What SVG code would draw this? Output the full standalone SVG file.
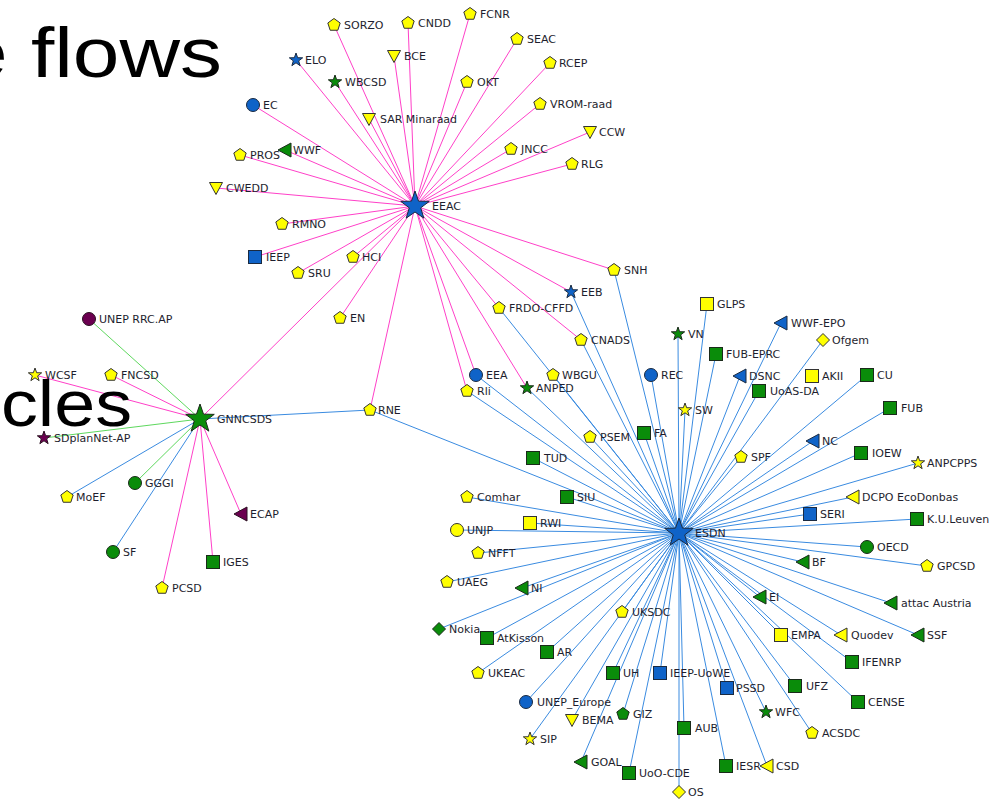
<svg xmlns="http://www.w3.org/2000/svg" xmlns:xlink="http://www.w3.org/1999/xlink" width="990" height="799" viewBox="0 0 990 799">
<style>
.bg{fill:#ffffff}
.ep{stroke:#ff40c8;stroke-width:1;fill:none}
.eb{stroke:#3a8be0;stroke-width:1;fill:none}
.eg{stroke:#5ed85e;stroke-width:1;fill:none}
.t{font-family:"DejaVu Sans",Verdana,sans-serif;font-size:11px;fill:#1e1e2e}
.big{font-family:"Liberation Sans",Arial,sans-serif;fill:#000}
.y{fill:#ffff00;stroke:#333;stroke-width:1}
.b{fill:#0f63c8;stroke:#1a2a40;stroke-width:1}
.g{fill:#0a8c0a;stroke:#1a2a1a;stroke-width:1}
.p{fill:#6b0050;stroke:#2a1020;stroke-width:1}
</style>
<defs>
<polygon id="pent" points="0,-6.5 6.18,-2.01 3.82,5.26 -3.82,5.26 -6.18,-2.01"/>
<circle id="circ" cx="0" cy="0" r="6.5"/>
<rect id="sq" x="-6.5" y="-6.5" width="13" height="13"/>
<polygon id="tdn" points="-6.5,-5.5 6.5,-5.5 0,6.5"/>
<polygon id="tlf" points="-7,0 6,-7 6,7"/>
<polygon id="dia" points="0,-6.5 6.5,0 0,6.5 -6.5,0"/>
<polygon id="star" points="0,-7 1.65,-2.27 6.66,-2.16 2.66,0.87 4.11,5.66 0,2.8 -4.11,5.66 -2.66,0.87 -6.66,-2.16 -1.65,-2.27"/>
<polygon id="hub" points="0,-15 3.53,-4.85 14.27,-4.64 5.71,1.85 8.82,12.14 0,6 -8.82,12.14 -5.71,1.85 -14.27,-4.64 -3.53,-4.85"/>
</defs>
<rect class="bg" x="0" y="0" width="990" height="799"/>
<g id="edges">
<g class="ep">
<line x1="415" y1="206" x2="334" y2="25"/><line x1="415" y1="206" x2="408" y2="23"/><line x1="415" y1="206" x2="470" y2="14"/>
<line x1="415" y1="206" x2="296" y2="60"/><line x1="415" y1="206" x2="394" y2="56"/><line x1="415" y1="206" x2="517" y2="39"/>
<line x1="415" y1="206" x2="335" y2="82"/><line x1="415" y1="206" x2="467" y2="82"/><line x1="415" y1="206" x2="550" y2="63"/>
<line x1="415" y1="206" x2="253" y2="105"/><line x1="415" y1="206" x2="369" y2="119"/><line x1="415" y1="206" x2="540" y2="104"/>
<line x1="415" y1="206" x2="590" y2="132"/><line x1="415" y1="206" x2="240" y2="155"/><line x1="415" y1="206" x2="285" y2="150"/>
<line x1="415" y1="206" x2="511" y2="149"/><line x1="415" y1="206" x2="572" y2="164"/><line x1="415" y1="206" x2="216" y2="188"/>
<line x1="415" y1="206" x2="282" y2="224"/><line x1="415" y1="206" x2="255" y2="257"/><line x1="415" y1="206" x2="353" y2="257"/>
<line x1="415" y1="206" x2="298" y2="273"/><line x1="415" y1="206" x2="340" y2="318"/><line x1="415" y1="206" x2="614" y2="270"/>
<line x1="415" y1="206" x2="571" y2="292"/><line x1="415" y1="206" x2="499" y2="308"/><line x1="415" y1="206" x2="581" y2="340"/>
<line x1="415" y1="206" x2="476" y2="375"/><line x1="415" y1="206" x2="467" y2="391"/><line x1="415" y1="206" x2="527" y2="388"/>
<line x1="415" y1="206" x2="370" y2="410"/><line x1="415" y1="206" x2="200" y2="419"/>
<line x1="200" y1="419" x2="35" y2="375"/><line x1="200" y1="419" x2="111" y2="375"/><line x1="200" y1="419" x2="162" y2="588"/>
<line x1="200" y1="419" x2="213" y2="562"/><line x1="200" y1="419" x2="241" y2="514"/>
</g>
<g class="eg">
<line x1="200" y1="419" x2="89" y2="319"/><line x1="200" y1="419" x2="44" y2="438"/><line x1="200" y1="419" x2="135" y2="483"/>
</g>
<g class="eb">
<line x1="200" y1="419" x2="67" y2="497"/><line x1="200" y1="419" x2="113" y2="552"/><line x1="200" y1="419" x2="370" y2="410"/>
<line x1="679" y1="533" x2="370" y2="410"/>
<line x1="679" y1="533" x2="614" y2="270"/><line x1="679" y1="533" x2="571" y2="292"/><line x1="679" y1="533" x2="499" y2="308"/>
<line x1="679" y1="533" x2="581" y2="340"/><line x1="679" y1="533" x2="476" y2="375"/><line x1="679" y1="533" x2="467" y2="391"/>
<line x1="679" y1="533" x2="527" y2="388"/><line x1="679" y1="533" x2="553" y2="375"/><line x1="679" y1="533" x2="651" y2="375"/>
<line x1="679" y1="533" x2="678" y2="334"/><line x1="679" y1="533" x2="707" y2="304"/><line x1="679" y1="533" x2="716" y2="354"/>
<line x1="679" y1="533" x2="781" y2="323"/><line x1="679" y1="533" x2="823" y2="340"/><line x1="679" y1="533" x2="740" y2="376"/>
<line x1="679" y1="533" x2="759" y2="391"/><line x1="679" y1="533" x2="867" y2="375"/><line x1="679" y1="533" x2="685" y2="410"/>
<line x1="679" y1="533" x2="644" y2="433"/><line x1="679" y1="533" x2="590" y2="437"/><line x1="679" y1="533" x2="533" y2="458"/>
<line x1="679" y1="533" x2="890" y2="408"/><line x1="679" y1="533" x2="813" y2="441"/><line x1="679" y1="533" x2="741" y2="457"/>
<line x1="679" y1="533" x2="861" y2="453"/><line x1="679" y1="533" x2="918" y2="463"/><line x1="679" y1="533" x2="853" y2="497"/>
<line x1="679" y1="533" x2="810" y2="514"/><line x1="679" y1="533" x2="917" y2="519"/><line x1="679" y1="533" x2="567" y2="497"/>
<line x1="679" y1="533" x2="467" y2="497"/><line x1="679" y1="533" x2="530" y2="523"/><line x1="679" y1="533" x2="457" y2="530"/>
<line x1="679" y1="533" x2="478" y2="553"/><line x1="679" y1="533" x2="447" y2="582"/><line x1="679" y1="533" x2="522" y2="588"/>
<line x1="679" y1="533" x2="622" y2="612"/><line x1="679" y1="533" x2="439" y2="629"/><line x1="679" y1="533" x2="487" y2="638"/>
<line x1="679" y1="533" x2="547" y2="652"/><line x1="679" y1="533" x2="867" y2="547"/><line x1="679" y1="533" x2="927" y2="566"/>
<line x1="679" y1="533" x2="803" y2="562"/><line x1="679" y1="533" x2="760" y2="597"/><line x1="679" y1="533" x2="891" y2="603"/>
<line x1="679" y1="533" x2="781" y2="635"/><line x1="679" y1="533" x2="841" y2="635"/><line x1="679" y1="533" x2="918" y2="635"/>
<line x1="679" y1="533" x2="852" y2="662"/><line x1="679" y1="533" x2="795" y2="686"/><line x1="679" y1="533" x2="727" y2="688"/>
<line x1="679" y1="533" x2="858" y2="702"/><line x1="679" y1="533" x2="766" y2="712"/><line x1="679" y1="533" x2="812" y2="733"/>
<line x1="679" y1="533" x2="684" y2="728"/><line x1="679" y1="533" x2="478" y2="673"/><line x1="679" y1="533" x2="613" y2="673"/>
<line x1="679" y1="533" x2="660" y2="673"/><line x1="679" y1="533" x2="526" y2="702"/><line x1="679" y1="533" x2="572" y2="720"/>
<line x1="679" y1="533" x2="623" y2="714"/><line x1="679" y1="533" x2="530" y2="739"/><line x1="679" y1="533" x2="581" y2="762"/>
<line x1="679" y1="533" x2="629" y2="773"/><line x1="679" y1="533" x2="726" y2="766"/><line x1="679" y1="533" x2="767" y2="766"/>
<line x1="679" y1="533" x2="679" y2="792"/>
</g>
</g>
<g id="nodes">
<g id="n-EEAC"><use href="#hub" class="b" x="415" y="206"/><text class="t" x="432" y="210">EEAC</text></g>
<g id="n-ESDN"><use href="#hub" class="b" x="679" y="533"/><text class="t" x="695" y="537">ESDN</text></g>
<g id="n-GNNCSDS"><use href="#hub" class="g" x="200" y="419"/><text class="t" x="217" y="423">GNNCSDS</text></g>
<g id="n-SORZO"><use href="#pent" class="y" x="334" y="25"/><text class="t" x="344" y="29">SORZO</text></g>
<g id="n-CNDD"><use href="#pent" class="y" x="408" y="23"/><text class="t" x="418" y="27">CNDD</text></g>
<g id="n-FCNR"><use href="#pent" class="y" x="470" y="14"/><text class="t" x="480" y="18">FCNR</text></g>
<g id="n-ELO"><use href="#star" class="b" x="296" y="60"/><text class="t" x="305" y="64">ELO</text></g>
<g id="n-BCE"><use href="#tdn" class="y" x="394" y="56"/><text class="t" x="404" y="60">BCE</text></g>
<g id="n-SEAC"><use href="#pent" class="y" x="517" y="39"/><text class="t" x="527" y="43">SEAC</text></g>
<g id="n-WBCSD"><use href="#star" class="g" x="335" y="82"/><text class="t" x="345" y="86">WBCSD</text></g>
<g id="n-OKT"><use href="#pent" class="y" x="467" y="82"/><text class="t" x="477" y="86">OKT</text></g>
<g id="n-RCEP"><use href="#pent" class="y" x="550" y="63"/><text class="t" x="559" y="67">RCEP</text></g>
<g id="n-EC"><use href="#circ" class="b" x="253" y="105"/><text class="t" x="263" y="109">EC</text></g>
<g id="n-SAR"><use href="#tdn" class="y" x="369" y="119"/><text class="t" x="380" y="123">SAR Minaraad</text></g>
<g id="n-VROM"><use href="#pent" class="y" x="540" y="104"/><text class="t" x="550" y="108">VROM-raad</text></g>
<g id="n-CCW"><use href="#tdn" class="y" x="590" y="132"/><text class="t" x="599" y="136">CCW</text></g>
<g id="n-PROS"><use href="#pent" class="y" x="240" y="155"/><text class="t" x="250" y="159">PROS</text></g>
<g id="n-WWF"><use href="#tlf" class="g" x="285" y="150"/><text class="t" x="293" y="154">WWF</text></g>
<g id="n-JNCC"><use href="#pent" class="y" x="511" y="149"/><text class="t" x="521" y="153">JNCC</text></g>
<g id="n-RLG"><use href="#pent" class="y" x="572" y="164"/><text class="t" x="581" y="168">RLG</text></g>
<g id="n-CWEDD"><use href="#tdn" class="y" x="216" y="188"/><text class="t" x="226" y="192">CWEDD</text></g>
<g id="n-RMNO"><use href="#pent" class="y" x="282" y="224"/><text class="t" x="292" y="228">RMNO</text></g>
<g id="n-IEEP"><use href="#sq" class="b" x="255" y="257"/><text class="t" x="266" y="261">IEEP</text></g>
<g id="n-HCI"><use href="#pent" class="y" x="353" y="257"/><text class="t" x="362" y="261">HCI</text></g>
<g id="n-SRU"><use href="#pent" class="y" x="298" y="273"/><text class="t" x="308" y="277">SRU</text></g>
<g id="n-EN"><use href="#pent" class="y" x="340" y="318"/><text class="t" x="350" y="322">EN</text></g>
<g id="n-SNH"><use href="#pent" class="y" x="614" y="270"/><text class="t" x="624" y="274">SNH</text></g>
<g id="n-EEB"><use href="#star" class="b" x="571" y="292"/><text class="t" x="581" y="296">EEB</text></g>
<g id="n-FRDO"><use href="#pent" class="y" x="499" y="308"/><text class="t" x="509" y="312">FRDO-CFFD</text></g>
<g id="n-CNADS"><use href="#pent" class="y" x="581" y="340"/><text class="t" x="591" y="344">CNADS</text></g>
<g id="n-EEA"><use href="#circ" class="b" x="476" y="375"/><text class="t" x="486" y="379">EEA</text></g>
<g id="n-Rli"><use href="#pent" class="y" x="467" y="391"/><text class="t" x="477" y="395">Rli</text></g>
<g id="n-ANPED"><use href="#star" class="g" x="527" y="388"/><text class="t" x="536" y="392">ANPED</text></g>
<g id="n-WBGU"><use href="#pent" class="y" x="553" y="375"/><text class="t" x="562" y="379">WBGU</text></g>
<g id="n-RNE"><use href="#pent" class="y" x="370" y="410"/><text class="t" x="378" y="414">RNE</text></g>
<g id="n-UNEPRRC"><use href="#circ" class="p" x="89" y="319"/><text class="t" x="99" y="323">UNEP RRC.AP</text></g>
<g id="n-WCSF"><use href="#star" class="y" x="35" y="375"/><text class="t" x="45" y="379">WCSF</text></g>
<g id="n-FNCSD"><use href="#pent" class="y" x="111" y="375"/><text class="t" x="121" y="379">FNCSD</text></g>
<g id="n-SDplanNet"><use href="#star" class="p" x="44" y="438"/><text class="t" x="54" y="442">SDplanNet-AP</text></g>
<g id="n-MoEF"><use href="#pent" class="y" x="67" y="497"/><text class="t" x="76" y="501">MoEF</text></g>
<g id="n-GGGI"><use href="#circ" class="g" x="135" y="483"/><text class="t" x="145" y="487">GGGI</text></g>
<g id="n-ECAP"><use href="#tlf" class="p" x="241" y="514"/><text class="t" x="250" y="518">ECAP</text></g>
<g id="n-SF"><use href="#circ" class="g" x="113" y="552"/><text class="t" x="123" y="556">SF</text></g>
<g id="n-IGES"><use href="#sq" class="g" x="213" y="562"/><text class="t" x="223" y="566">IGES</text></g>
<g id="n-PCSD"><use href="#pent" class="y" x="162" y="588"/><text class="t" x="172" y="592">PCSD</text></g>
<g id="n-REC"><use href="#circ" class="b" x="651" y="375"/><text class="t" x="661" y="379">REC</text></g>
<g id="n-VN"><use href="#star" class="g" x="678" y="334"/><text class="t" x="688" y="338">VN</text></g>
<g id="n-GLPS"><use href="#sq" class="y" x="707" y="304"/><text class="t" x="717" y="308">GLPS</text></g>
<g id="n-FUBEPRC"><use href="#sq" class="g" x="716" y="354"/><text class="t" x="726" y="358">FUB-EPRC</text></g>
<g id="n-WWFEPO"><use href="#tlf" class="b" x="781" y="323"/><text class="t" x="791" y="327">WWF-EPO</text></g>
<g id="n-Ofgem"><use href="#dia" class="y" x="823" y="340"/><text class="t" x="832" y="344">Ofgem</text></g>
<g id="n-DSNC"><use href="#tlf" class="b" x="740" y="376"/><text class="t" x="749" y="380">DSNC</text></g>
<g id="n-UoASDA"><use href="#sq" class="g" x="759" y="391"/><text class="t" x="770" y="395">UoAS-DA</text></g>
<g id="n-AKII"><use href="#sq" class="y" x="812" y="376"/><text class="t" x="822" y="380">AKII</text></g>
<g id="n-CU"><use href="#sq" class="g" x="867" y="375"/><text class="t" x="877" y="379">CU</text></g>
<g id="n-SW"><use href="#star" class="y" x="685" y="410"/><text class="t" x="695" y="414">SW</text></g>
<g id="n-FA"><use href="#sq" class="g" x="644" y="433"/><text class="t" x="654" y="437">FA</text></g>
<g id="n-PSEM"><use href="#pent" class="y" x="590" y="437"/><text class="t" x="600" y="441">PSEM</text></g>
<g id="n-TUD"><use href="#sq" class="g" x="533" y="458"/><text class="t" x="544" y="462">TUD</text></g>
<g id="n-FUB"><use href="#sq" class="g" x="890" y="408"/><text class="t" x="901" y="412">FUB</text></g>
<g id="n-NC"><use href="#tlf" class="b" x="813" y="441"/><text class="t" x="822" y="445">NC</text></g>
<g id="n-SPF"><use href="#pent" class="y" x="741" y="457"/><text class="t" x="751" y="461">SPF</text></g>
<g id="n-IOEW"><use href="#sq" class="g" x="861" y="453"/><text class="t" x="872" y="457">IOEW</text></g>
<g id="n-ANPCPPS"><use href="#star" class="y" x="918" y="463"/><text class="t" x="927" y="467">ANPCPPS</text></g>
<g id="n-DCPO"><use href="#tlf" class="y" x="853" y="497"/><text class="t" x="862" y="501">DCPO EcoDonbas</text></g>
<g id="n-SERI"><use href="#sq" class="b" x="810" y="514"/><text class="t" x="820" y="518">SERI</text></g>
<g id="n-KUL"><use href="#sq" class="g" x="917" y="519"/><text class="t" x="927" y="523">K.U.Leuven</text></g>
<g id="n-SIU"><use href="#sq" class="g" x="567" y="497"/><text class="t" x="577" y="501">SIU</text></g>
<g id="n-Comhar"><use href="#pent" class="y" x="467" y="497"/><text class="t" x="477" y="501">Comhar</text></g>
<g id="n-RWI"><use href="#sq" class="y" x="530" y="523"/><text class="t" x="540" y="527">RWI</text></g>
<g id="n-UNJP"><use href="#circ" class="y" x="457" y="530"/><text class="t" x="467" y="534">UNJP</text></g>
<g id="n-NFFT"><use href="#pent" class="y" x="478" y="553"/><text class="t" x="488" y="557">NFFT</text></g>
<g id="n-UAEG"><use href="#pent" class="y" x="447" y="582"/><text class="t" x="457" y="586">UAEG</text></g>
<g id="n-NI"><use href="#tlf" class="g" x="522" y="588"/><text class="t" x="531" y="592">NI</text></g>
<g id="n-UKSDC"><use href="#pent" class="y" x="622" y="612"/><text class="t" x="632" y="616">UKSDC</text></g>
<g id="n-Nokia"><use href="#dia" class="g" x="439" y="629"/><text class="t" x="449" y="633">Nokia</text></g>
<g id="n-AtKisson"><use href="#sq" class="g" x="487" y="638"/><text class="t" x="497" y="642">AtKisson</text></g>
<g id="n-AR"><use href="#sq" class="g" x="547" y="652"/><text class="t" x="557" y="656">AR</text></g>
<g id="n-OECD"><use href="#circ" class="g" x="867" y="547"/><text class="t" x="877" y="551">OECD</text></g>
<g id="n-GPCSD"><use href="#pent" class="y" x="927" y="566"/><text class="t" x="937" y="570">GPCSD</text></g>
<g id="n-BF"><use href="#tlf" class="g" x="803" y="562"/><text class="t" x="812" y="566">BF</text></g>
<g id="n-EI"><use href="#tlf" class="g" x="760" y="597"/><text class="t" x="769" y="601">EI</text></g>
<g id="n-attac"><use href="#tlf" class="g" x="891" y="603"/><text class="t" x="901" y="607">attac Austria</text></g>
<g id="n-EMPA"><use href="#sq" class="y" x="781" y="635"/><text class="t" x="791" y="639">EMPA</text></g>
<g id="n-Quodev"><use href="#tlf" class="y" x="841" y="635"/><text class="t" x="851" y="639">Quodev</text></g>
<g id="n-SSF"><use href="#tlf" class="g" x="918" y="635"/><text class="t" x="927" y="639">SSF</text></g>
<g id="n-IFENRP"><use href="#sq" class="g" x="852" y="662"/><text class="t" x="862" y="666">IFENRP</text></g>
<g id="n-UFZ"><use href="#sq" class="g" x="795" y="686"/><text class="t" x="806" y="690">UFZ</text></g>
<g id="n-PSSD"><use href="#sq" class="b" x="727" y="688"/><text class="t" x="736" y="692">PSSD</text></g>
<g id="n-CENSE"><use href="#sq" class="g" x="858" y="702"/><text class="t" x="868" y="706">CENSE</text></g>
<g id="n-WFC"><use href="#star" class="g" x="766" y="712"/><text class="t" x="775" y="716">WFC</text></g>
<g id="n-ACSDC"><use href="#pent" class="y" x="812" y="733"/><text class="t" x="822" y="737">ACSDC</text></g>
<g id="n-AUB"><use href="#sq" class="g" x="684" y="728"/><text class="t" x="695" y="732">AUB</text></g>
<g id="n-UKEAC"><use href="#pent" class="y" x="478" y="673"/><text class="t" x="488" y="677">UKEAC</text></g>
<g id="n-UH"><use href="#sq" class="g" x="613" y="673"/><text class="t" x="623" y="677">UH</text></g>
<g id="n-IEEPUoWE"><use href="#sq" class="b" x="660" y="673"/><text class="t" x="670" y="677">IEEP-UoWE</text></g>
<g id="n-UNEPEurope"><use href="#circ" class="b" x="526" y="702"/><text class="t" x="537" y="706">UNEP_Europe</text></g>
<g id="n-BEMA"><use href="#tdn" class="y" x="572" y="720"/><text class="t" x="582" y="724">BEMA</text></g>
<g id="n-GIZ"><use href="#pent" class="g" x="623" y="714"/><text class="t" x="633" y="718">GIZ</text></g>
<g id="n-SIP"><use href="#star" class="y" x="530" y="739"/><text class="t" x="540" y="743">SIP</text></g>
<g id="n-GOAL"><use href="#tlf" class="g" x="581" y="762"/><text class="t" x="591" y="766">GOAL</text></g>
<g id="n-UoOCDE"><use href="#sq" class="g" x="629" y="773"/><text class="t" x="639" y="777">UoO-CDE</text></g>
<g id="n-IESR"><use href="#sq" class="g" x="726" y="766"/><text class="t" x="736" y="770">IESR</text></g>
<g id="n-CSD"><use href="#tlf" class="y" x="767" y="766"/><text class="t" x="776" y="770">CSD</text></g>
<g id="n-OS"><use href="#dia" class="y" x="679" y="792"/><text class="t" x="688" y="796">OS</text></g>
</g>
<g id="overlay">
<text class="big" x="-39" y="77" font-size="70" textLength="261" lengthAdjust="spacingAndGlyphs">e flows</text>
<text class="big" x="1" y="426" font-size="64" textLength="131" lengthAdjust="spacingAndGlyphs">cles</text>
</g>
</svg>
